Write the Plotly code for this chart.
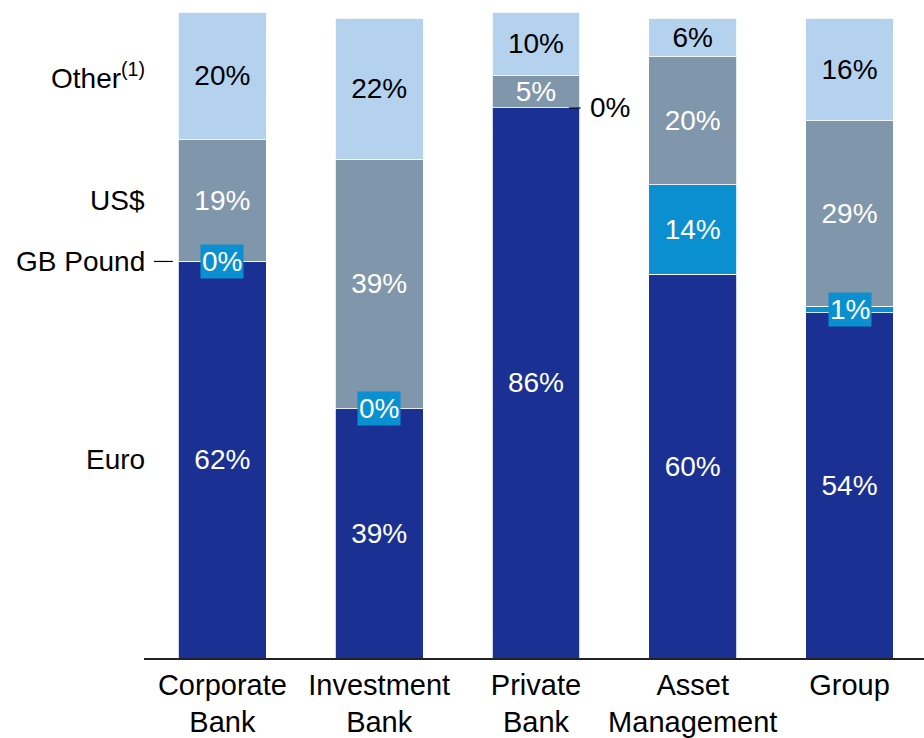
import plotly.graph_objects as go

categories = ["Corporate<br>Bank", "Investment<br>Bank", "Private<br>Bank", "Asset<br>Management", "Group"]
euro = [62, 39, 86, 60, 54]
gbp = [0, 0, 0, 14, 1]
usd = [19, 39, 5, 20, 29]
other = [20, 22, 10, 6, 16]
series_names = ["Euro", "GB Pound", "US$", "Other<sup>(1)</sup>"]

C_EURO = "#1a3193"
C_GBP = "#0a90d0"
C_USD = "#8096aa"
C_OTHER = "#b4d1ee"
FONT = "Liberation Sans, Arial, sans-serif"
FS = 28

x_idx = list(range(len(categories)))
BAR_W = 0.56

fig = go.Figure()


def pct(v):
    return f"{v}%"


def add_series(vals, name, color, text_color, show_small=True):
    txt = [pct(v) if (show_small or v >= 5) else None for v in vals]
    fig.add_trace(go.Bar(x=x_idx, y=vals, name=name,
                         marker=dict(color=color, line=dict(color="white", width=0.8)),
                         text=txt, textposition="inside", insidetextanchor="middle",
                         textfont=dict(color=text_color, size=FS, family=FONT), width=BAR_W))


add_series(euro, "Euro", C_EURO, "white")
add_series(gbp, "GB Pound", C_GBP, "white", show_small=False)
add_series(usd, "US$", C_USD, "white")
add_series(other, "Other", C_OTHER, "black")

annotations = []
shapes = []
# small GB Pound labels: boxed on the bar, or outside with a leader line
for i, v in enumerate(gbp):
    if v >= 5:
        continue
    yc = euro[i] + v / 2
    if i == 2:
        shapes.append(dict(type="line", xref="x", yref="y", x0=i + 0.21, x1=i + 0.285, y0=yc, y1=yc,
                           line=dict(color="black", width=1.2)))
        annotations.append(dict(x=i + 0.33, y=yc, xref="x", yref="y", text=pct(v), showarrow=False,
                                xanchor="left", yanchor="middle", font=dict(color="black", size=FS, family=FONT)))
    else:
        annotations.append(dict(x=i, y=yc, xref="x", yref="y", text=pct(v), showarrow=False,
                                xanchor="center", yanchor="middle", bgcolor=C_GBP, borderpad=1,
                                font=dict(color="white", size=FS, family=FONT)))

# left-side series labels aligned to first bar's segments
mids = [euro[0] / 2, euro[0] + gbp[0] / 2, euro[0] + gbp[0] + usd[0] / 2, euro[0] + gbp[0] + usd[0] + other[0] / 2]
for name, ym in zip(series_names, mids):
    annotations.append(dict(x=-0.48, y=ym, xref="x", yref="y", text=name, showarrow=False,
                            xanchor="right", yanchor="middle", font=dict(color="black", size=FS, family=FONT)))
shapes.append(dict(type="line", xref="x", yref="y", x0=-0.437, x1=-0.316, y0=mids[1], y1=mids[1],
                   line=dict(color="black", width=1.2)))

fig.update_layout(
    barmode="stack",
    width=924, height=738,
    margin=dict(l=144, r=0, t=12, b=78),
    paper_bgcolor="white", plot_bgcolor="white",
    showlegend=False,
    uniformtext=dict(minsize=FS, mode="show"),
    annotations=annotations, shapes=shapes,
    font=dict(family=FONT, size=FS, color="black"),
)
fig.update_xaxes(tickmode="array", tickvals=x_idx, ticktext=categories, range=[-0.5, 4.475],
                 showline=True, linecolor="#222", linewidth=1.5, ticks="", showgrid=False, zeroline=False,
                 tickfont=dict(size=29, color="black", family=FONT))
fig.update_yaxes(range=[0, 101], showticklabels=False, showgrid=False, zeroline=False, showline=False, ticks="")

fig.write_html("out.html", config={"displayModeBar": False},
               post_script="document.body.style.margin='0';document.body.style.overflow='hidden';")
